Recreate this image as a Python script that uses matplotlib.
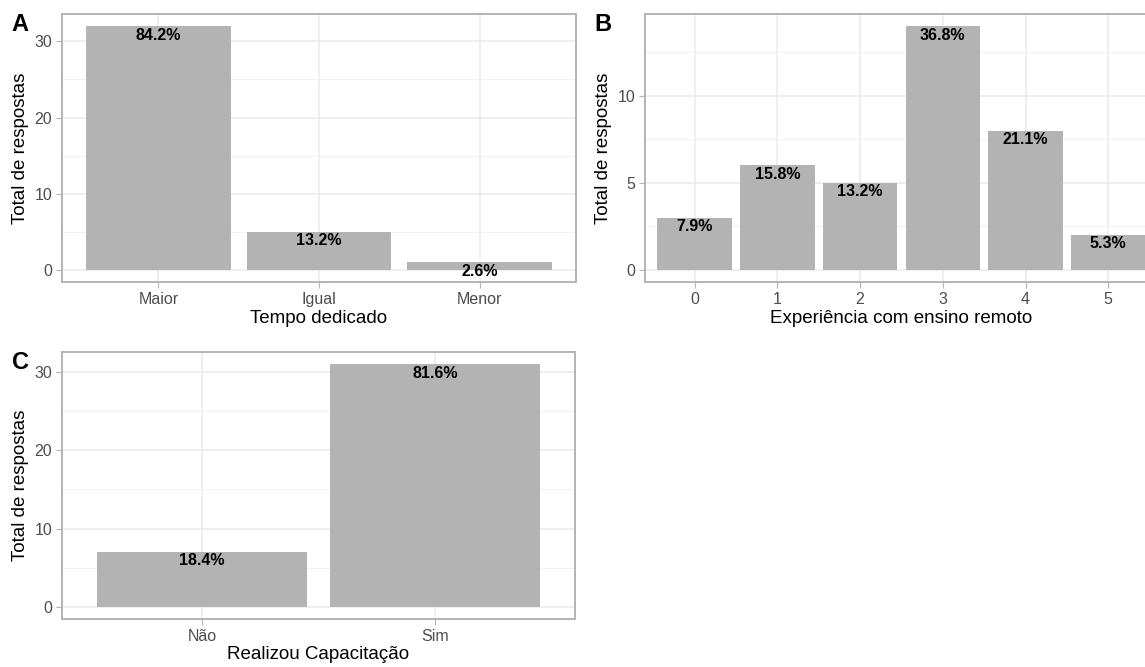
import matplotlib
matplotlib.use("Agg")
import matplotlib.pyplot as plt
from matplotlib.ticker import MultipleLocator

plt.rcParams['font.family'] = ['Liberation Sans', 'DejaVu Sans']

# Panel A - tempo dedicado
tempo_cats = ["Maior", "Igual", "Menor"]
tempo_vals = [32, 5, 1]

# Panel B - experiencia com ensino remoto
exp_cats = ["0", "1", "2", "3", "4", "5"]
exp_vals = [3, 6, 5, 14, 8, 2]

# Panel C - capacitacao
cap_cats = ["Não", "Sim"]
cap_vals = [7, 31]

BAR = "#B3B3B3"
BORDER = "#B3B3B3"
GRID = "#EBEBEB"
TICKTXT = "#4D4D4D"


def panel(ax, cats, vals, xlabel, letter, major, minor):
    total = sum(vals)
    x = list(range(len(cats)))
    ax.bar(x, vals, width=0.9, color=BAR, zorder=2)
    for xi, v in zip(x, vals):
        ax.annotate(f"{100 * v / total:.1f}%", (xi, v), xytext=(0, -1),
                    textcoords="offset points", ha="center", va="top",
                    fontsize=11.5, fontweight="bold", color="black", zorder=3)
    ax.set_xlim(-0.6, len(cats) - 0.4)
    top = max(vals)
    ax.set_ylim(-0.05 * top, top * 1.05)
    ax.set_xticks(x)
    ax.set_xticklabels(cats)
    ax.yaxis.set_major_locator(MultipleLocator(major))
    ax.yaxis.set_minor_locator(MultipleLocator(minor))
    ax.grid(True, which="major", color=GRID, linewidth=1.1, zorder=0)
    ax.grid(True, which="minor", axis="y", color="#F2F2F2", linewidth=0.8, zorder=0)
    ax.set_axisbelow(True)
    for s in ax.spines.values():
        s.set_color(BORDER)
        s.set_linewidth(1.4)
    ax.tick_params(which="major", length=4, color=BORDER, labelcolor=TICKTXT,
                   labelsize=11.5, pad=3)
    ax.tick_params(which="minor", length=0)
    ax.set_xlabel(xlabel, fontsize=13.5, labelpad=2)
    ax.set_ylabel("Total de respostas", fontsize=13.5, labelpad=4)
    ax.text(-0.098, 1.005, letter, transform=ax.transAxes, fontsize=17,
            fontweight="bold", ha="left", va="top")


fig = plt.figure(figsize=(11.45, 6.67), dpi=100)
axA = fig.add_axes([0.0541, 0.5772, 0.4489, 0.4018])
axB = fig.add_axes([0.5633, 0.5772, 0.4480, 0.4018])
axC = fig.add_axes([0.0541, 0.0720, 0.4480, 0.4003])

panel(axA, tempo_cats, tempo_vals, "Tempo dedicado", "A", 10, 5)
panel(axB, exp_cats, exp_vals, "Experiência com ensino remoto", "B", 5, 2.5)
panel(axC, cap_cats, cap_vals, "Realizou Capacitação", "C", 10, 5)

fig.savefig("out.png", dpi=100)
